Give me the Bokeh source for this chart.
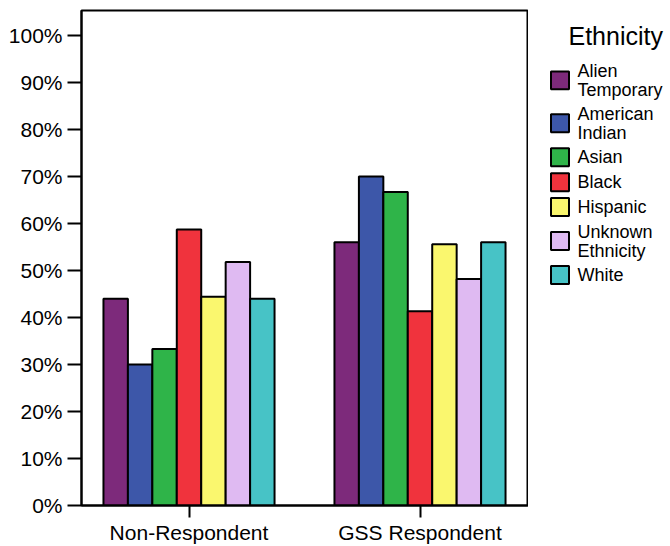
from bokeh.plotting import figure
from bokeh.models import ColumnDataSource, FixedTicker, Range1d
from bokeh.layouts import row
from bokeh.embed import file_html
from bokeh.resources import INLINE
from bokeh.core.properties import value

# ---- data ----
groups = ["Non-Respondent", "GSS Respondent"]
ethnicities = ["Alien Temporary", "American Indian", "Asian", "Black",
               "Hispanic", "Unknown Ethnicity", "White"]
legend_labels = ["Alien\nTemporary", "American\nIndian", "Asian", "Black",
                 "Hispanic", "Unknown\nEthnicity", "White"]
non_respondent = [44.0, 30.0, 33.3, 58.7, 44.4, 51.8, 44.0]
gss_respondent = [56.0, 70.0, 66.7, 41.3, 55.6, 48.2, 56.0]
colors = ["#7D2A7B", "#3D57A9", "#2FB449", "#F0333D",
          "#FAF76E", "#DFBAF2", "#47C3C6"]
y_ticks = [0, 10, 20, 30, 40, 50, 60, 70, 80, 90, 100]

FONT = "Liberation Sans"
bar_w = 0.1058

xs, tops, fills = [], [], []
for gi, vals in enumerate([non_respondent, gss_respondent]):
    for i, v in enumerate(vals):
        xs.append(gi + (i - 3) * bar_w)
        tops.append(v)
        fills.append(colors[i])
src = ColumnDataSource(dict(x=xs, top=tops, color=fills))

p = figure(width=528, height=546, output_backend="svg", toolbar_location=None,
           x_range=Range1d(-0.4654, 1.4697), y_range=Range1d(0, 105.3),
           min_border_left=81, min_border_right=0, min_border_top=10,
           min_border_bottom=40)
p.vbar(x="x", top="top", width=bar_w, bottom=0, fill_color="color",
       line_color="black", line_width=2, source=src)

p.xgrid.visible = False
p.ygrid.visible = False
p.outline_line_color = "black"
p.outline_line_width = 2
p.background_fill_color = "white"
p.border_fill_color = "white"

p.yaxis.ticker = FixedTicker(ticks=y_ticks)
p.yaxis.major_label_overrides = {t: f"{t}%" for t in y_ticks}
p.yaxis.minor_tick_line_color = None
p.yaxis.major_tick_in = 0
p.yaxis.major_tick_out = 14
p.yaxis.major_tick_line_width = 2
p.yaxis.axis_line_width = 2
p.yaxis.major_label_text_font = FONT
p.yaxis.major_label_text_font_size = "21px"
p.yaxis.major_label_text_color = "black"
p.yaxis.major_label_standoff = 5

p.xaxis.ticker = FixedTicker(ticks=[0, 1])
p.xaxis.major_label_overrides = {0: groups[0], 1: groups[1]}
p.xaxis.minor_tick_line_color = None
p.xaxis.major_tick_in = 0
p.xaxis.major_tick_out = 12
p.xaxis.major_tick_line_width = 2
p.xaxis.axis_line_width = 2
p.xaxis.major_label_text_font = FONT
p.xaxis.major_label_text_font_size = "21px"
p.xaxis.major_label_text_color = "black"
p.xaxis.major_label_standoff = 3

# ---- legend panel (frame aligned with main frame: y from 10 to 506) ----
lg = figure(width=142, height=546, output_backend="svg", toolbar_location=None,
            x_range=Range1d(0, 142), y_range=Range1d(506, 10),
            min_border_left=0, min_border_right=0, min_border_top=10,
            min_border_bottom=40, outline_line_color=None)
lg.axis.visible = False
lg.grid.visible = False

heights = [43 if "\n" in lab else 25 for lab in legend_labels]
centers = []
top = 58.5
for h in heights:
    centers.append(top + h / 2)
    top += h
lsrc = ColumnDataSource(dict(x=[31.5] * 7, tx=[49] * 7, y=centers,
                             label=legend_labels, color=colors))
lg.rect(x="x", y="y", width=18, height=18, fill_color="color",
        line_color="black", line_width=2, source=lsrc)
lg.text(x="tx", y="y", text="label", text_font=value(FONT),
        text_font_size="18px", text_baseline="middle", text_align="left",
        text_line_height=0.95, text_color="black", source=lsrc)
lg.text(x=[40], y=[36], text=["Ethnicity"], text_font=value(FONT),
        text_font_size="25px", text_baseline="middle", text_align="left",
        text_color="black")

layout = row(p, lg)
open("out.html", "w").write(file_html(layout, INLINE))
